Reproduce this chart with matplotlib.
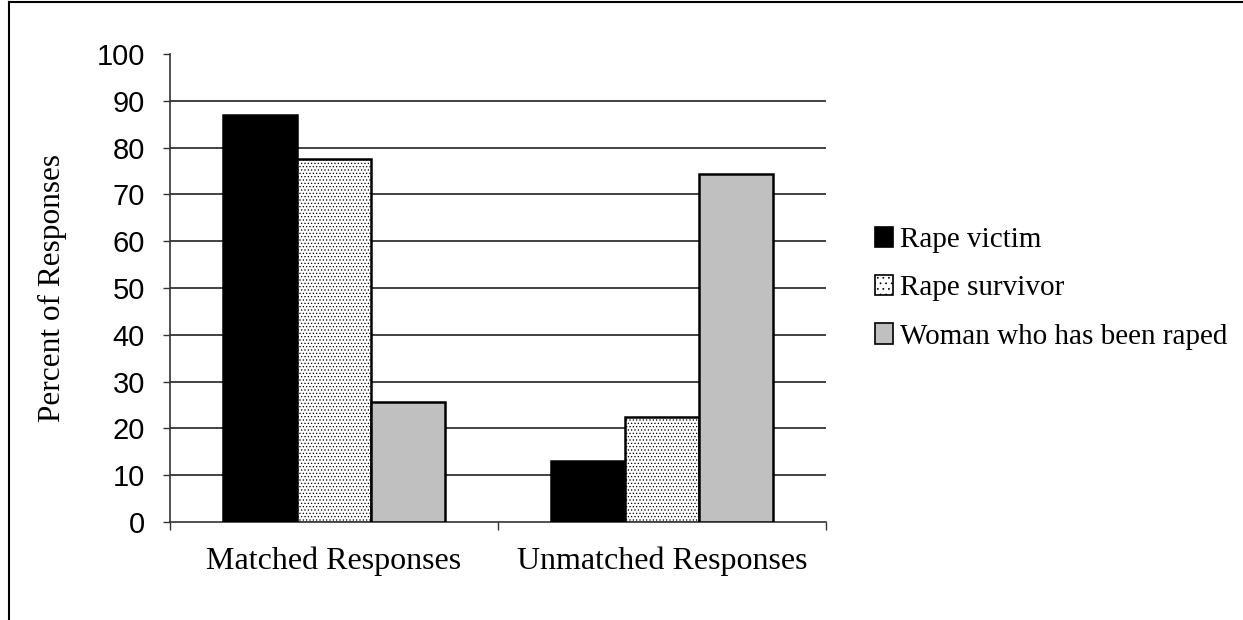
import matplotlib
matplotlib.use("Agg")
import matplotlib.pyplot as plt
import numpy as np
from matplotlib.lines import Line2D
from matplotlib.patches import Patch

categories = ["Matched Responses", "Unmatched Responses"]
series_names = ["Rape victim", "Rape survivor", "Woman who has been raped"]
rape_victim = [87.0, 13.0]
rape_survivor = [77.5, 22.5]
woman_raped = [25.6, 74.4]
y_ticks = [0, 10, 20, 30, 40, 50, 60, 70, 80, 90, 100]

serif = "Liberation Serif"
sans = "Liberation Sans"
plt.rcParams["hatch.linewidth"] = 0.5

W, H = 1243, 620
fig = plt.figure(figsize=(W / 100, H / 100), dpi=100)
ax = fig.add_axes([170 / W, 1 - 522 / H, (826 - 170) / W, (522 - 54) / H])

x = np.arange(len(categories))
bw = 0.2256
styles = [
    dict(facecolor="black", edgecolor="black", hatch=None),
    dict(facecolor="white", edgecolor="black", hatch="....."),
    dict(facecolor="#c0c0c0", edgecolor="black", hatch=None),
]
for i, vals in enumerate([rape_victim, rape_survivor, woman_raped]):
    ax.bar(x + (i - 1) * bw, vals, width=bw, linewidth=1.8, zorder=3,
           **styles[i])

ax.set_xlim(-0.5, 1.5)
ax.set_ylim(0, 100)
ax.set_yticks(y_ticks)
ax.set_yticklabels([str(t) for t in y_ticks], fontfamily=sans, fontsize=21)
for t in y_ticks[1:-1]:
    ax.axhline(t, color="#333333", linewidth=1.3, zorder=1)

ax.set_xticks([-0.5, 0.5, 1.5])
ax.set_xticklabels([])
ax.tick_params(axis="x", direction="out", length=6, width=1, color="#333333")
ax.tick_params(axis="y", direction="out", length=5, width=1, color="#333333",
               pad=13)
for i, c in enumerate(categories):
    ax.text(x[i], -8.3, c, ha="center", va="center", fontfamily=serif,
            fontsize=23, transform=ax.transData)

for s in ["top", "right"]:
    ax.spines[s].set_visible(False)
for s in ["left", "bottom"]:
    ax.spines[s].set_color("#333333")
    ax.spines[s].set_linewidth(1.2)

fig.text(52 / W, 1 - 288 / H, "Percent of Responses", rotation=90,
         ha="center", va="center", fontfamily=serif, fontsize=22.5)

handles = [Patch(facecolor=st["facecolor"], edgecolor="black",
                 hatch=("..." if st["hatch"] else None), linewidth=1.2)
           for st in styles]
fig.legend(handles, series_names, loc="center left",
           bbox_to_anchor=(875 / W, 1 - 288 / H), frameon=False,
           prop={"family": serif, "size": 21}, handlelength=0.6,
           handleheight=0.7, handletextpad=0.25, labelspacing=0.75,
           borderpad=0, borderaxespad=0)

# outer frame edges
fig.add_artist(Line2D([9 / W, 9 / W], [0, 1 - 2 / H], color="black",
                      linewidth=1.5, transform=fig.transFigure))
fig.add_artist(Line2D([9 / W, 1], [1 - 2 / H, 1 - 2 / H], color="black",
                      linewidth=1.5, transform=fig.transFigure))

fig.savefig("out.png", dpi=100)
